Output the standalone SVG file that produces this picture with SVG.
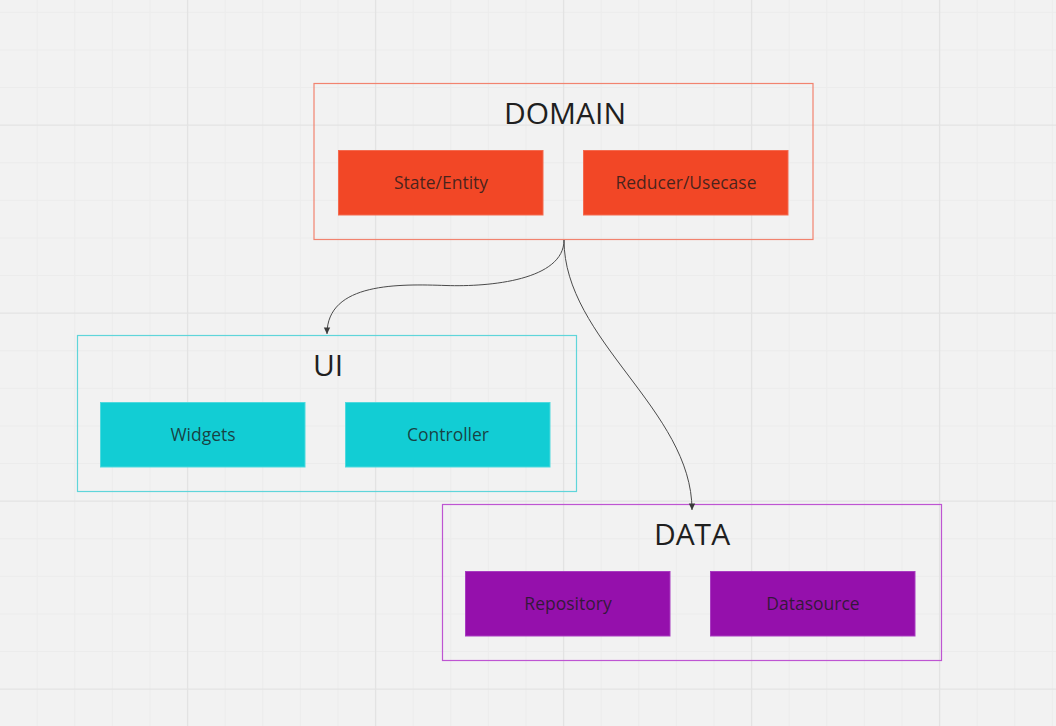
<svg xmlns="http://www.w3.org/2000/svg" width="1056" height="726" viewBox="0 0 1056 726">
  <style>
    .minor { stroke: #ececec; stroke-width: 1; fill: none; }
    .major { stroke: #e3e3e3; stroke-width: 1.3; fill: none; }
    .title { font-family: "Open Sans", "Noto Sans", sans-serif; font-size: 30px; fill: #1f1f1f; text-anchor: middle; }
    .label { font-family: "Open Sans", "Noto Sans", sans-serif; font-size: 17.5px; fill: #1a1a1a; fill-opacity: 0.8; text-anchor: middle; }
    .frame { fill: none; stroke-width: 1.2; }
    .conn { fill: none; stroke: #4a4a4a; stroke-width: 1; }
  </style>
  <defs>
    <marker id="arrow" markerUnits="userSpaceOnUse" markerWidth="10" markerHeight="10" viewBox="0 0 10 10" refX="8" refY="5" orient="auto">
      <path d="M1.5,1.8 L8,5 L1.5,8.2 Z" fill="#3a3a3a"/>
    </marker>
  </defs>
  <rect x="0" y="0" width="1056" height="726" fill="#f2f2f2"/>
  <g id="grid">
    <path class="minor" d="M37.2,0V726M74.8,0V726M112.4,0V726M150,0V726M225.2,0V726M262.8,0V726M300.4,0V726M338,0V726M413.2,0V726M450.8,0V726M488.4,0V726M526,0V726M601.2,0V726M638.8,0V726M676.4,0V726M714,0V726M789.2,0V726M826.8,0V726M864.4,0V726M902,0V726M977.2,0V726M1014.8,0V726M1052.4,0V726
      M0,12.4H1056M0,50H1056M0,87.6H1056M0,162.8H1056M0,200.4H1056M0,238H1056M0,275.6H1056M0,350.8H1056M0,388.4H1056M0,426H1056M0,463.6H1056M0,538.8H1056M0,576.4H1056M0,614H1056M0,651.6H1056"/>
    <path class="major" d="M187.6,0V726M375.6,0V726M563.6,0V726M751.6,0V726M939.6,0V726M0,125.2H1056M0,313.2H1056M0,501.2H1056M0,689.2H1056"/>
  </g>
  <g id="domain">
    <rect class="frame" x="314" y="83.5" width="499" height="156" stroke="#f2836f"/>
    <text class="title" x="565" y="123.5">DOMAIN</text>
    <g id="state-entity">
      <rect x="338.5" y="150.5" width="204.5" height="64.5" fill="#f24726" stroke="#f46a4f" stroke-width="1"/>
      <text class="label" x="441" y="189">State/Entity</text>
    </g>
    <g id="reducer-usecase">
      <rect x="583.5" y="150.5" width="204.5" height="64.5" fill="#f24726" stroke="#f46a4f" stroke-width="1"/>
      <text class="label" x="686" y="189">Reducer/Usecase</text>
    </g>
  </g>
  <g id="ui">
    <rect class="frame" x="77.5" y="335.5" width="499" height="156" stroke="#5fd5da"/>
    <text class="title" x="328" y="375.5">UI</text>
    <g id="widgets">
      <rect x="100.5" y="402.5" width="204.5" height="64.5" fill="#12cdd4" stroke="#4fd9de" stroke-width="1"/>
      <text class="label" x="203" y="440.5">Widgets</text>
    </g>
    <g id="controller">
      <rect x="345.5" y="402.5" width="204.5" height="64.5" fill="#12cdd4" stroke="#4fd9de" stroke-width="1"/>
      <text class="label" x="448" y="440.5">Controller</text>
    </g>
  </g>
  <g id="data">
    <rect class="frame" x="442.5" y="504.5" width="499" height="156" stroke="#be55d2"/>
    <text class="title" x="692" y="544.5">DATA</text>
    <g id="repository">
      <rect x="465.5" y="571.5" width="204.5" height="64.5" fill="#9510ac" stroke="#a83cc0" stroke-width="1"/>
      <text class="label" x="568" y="609.5">Repository</text>
    </g>
    <g id="datasource">
      <rect x="710.5" y="571.5" width="204.5" height="64.5" fill="#9510ac" stroke="#a83cc0" stroke-width="1"/>
      <text class="label" x="813" y="609.5">Datasource</text>
    </g>
  </g>
  <g id="connectors">
    <path class="conn" d="M564,240 C564,280 490,287 446,285.5 C400,284 327,282 327,334" marker-end="url(#arrow)"/>
    <path class="conn" d="M564,240 C564,340 692,410 692,510" marker-end="url(#arrow)"/>
  </g>
</svg>
